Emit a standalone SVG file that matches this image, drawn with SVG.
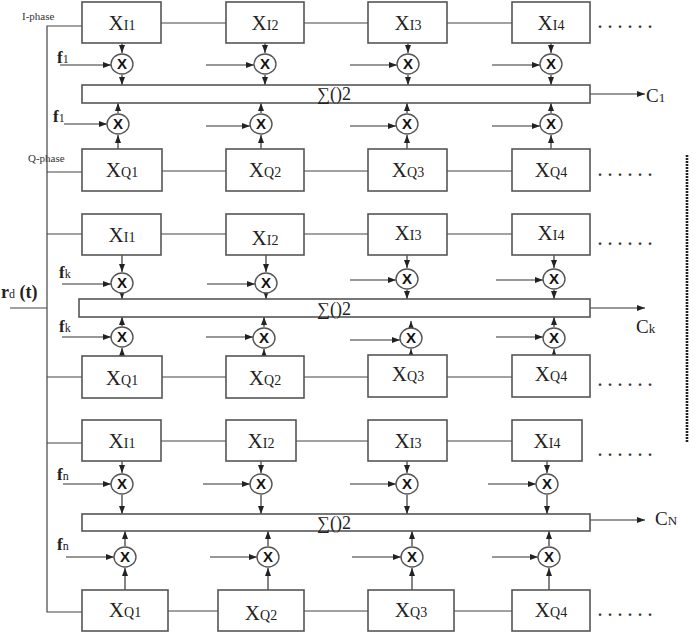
<svg xmlns="http://www.w3.org/2000/svg" width="700" height="632" viewBox="0 0 700 632">
<defs>
<marker id="ah" markerWidth="8" markerHeight="6" refX="8" refY="3" orient="auto" markerUnits="userSpaceOnUse">
<path d="M0,0 L8,3 L0,6 z" fill="#222"/>
</marker>
<style>
.bx{fill:#fff;stroke:#555;stroke-width:1.6}
.bar{fill:#fff;stroke:#555;stroke-width:1.6}
.ln{fill:none;stroke:#444;stroke-width:1.2}
.ar{fill:none;stroke:#333;stroke-width:1.2;marker-end:url(#ah)}
.mc{fill:#fff;stroke:#555;stroke-width:1.4}
.t{font-family:"Liberation Serif","DejaVu Serif",serif;fill:#222}
.bl{font-size:21px;text-anchor:middle}
.sb{font-size:14px}
.mx{font-family:"Liberation Sans",sans-serif;font-weight:bold;font-size:15px;text-anchor:middle;fill:#111}
.fl{font-size:17px;font-weight:bold}
.fs{font-size:12px;font-weight:normal}
.sm{font-size:18px;text-anchor:middle}
.dt{font-family:"Liberation Serif","DejaVu Serif",serif;font-size:16px;font-weight:bold;letter-spacing:6px;fill:#333}
.ph{font-family:"Liberation Serif","DejaVu Serif",serif;font-size:11px;fill:#333}
</style>
</defs>
<rect width="700" height="632" fill="#fff"/>

<!-- connectors -->
<g id="connectors">
<path class="ln" d="M82,26 H47 V612 H82"/>
<path class="ln" d="M10,308 H47"/>
<path class="ln" d="M47,172 H82 M47,234 H82 M47,377 H82 M47,443 H82"/>
<path class="ln" d="M161,23 H226 M304,23 H368 M447,23 H512"/>
<path class="ln" d="M162,171 H226 M304,171 H368 M447,171 H512"/>
<path class="ln" d="M161,234 H226 M304,234 H368 M447,234 H512"/>
<path class="ln" d="M162,377 H226 M304,377 H368 M447,377 H512"/>
<path class="ln" d="M161,441 H226 M296,441 H368 M447,441 H512"/>
<path class="ln" d="M168,611 H218 M304,611 H368 M454,611 H512"/>

<path class="ar" d="M122,43 V53"/><path class="ar" d="M122,75 V85"/><path class="ar" d="M60,65 H111"/>
<path class="ar" d="M265,43 V53"/><path class="ar" d="M265,75 V85"/><path class="ar" d="M206,65 H254"/>
<path class="ar" d="M408,43 V53"/><path class="ar" d="M408,75 V85"/><path class="ar" d="M350,65 H397"/>
<path class="ar" d="M551,43 V53"/><path class="ar" d="M551,75 V85"/><path class="ar" d="M492,65 H540"/>
<path class="ar" d="M118,149 V135"/><path class="ar" d="M118,113 V103"/><path class="ar" d="M64,124 H107"/>
<path class="ar" d="M261,149 V135"/><path class="ar" d="M261,113 V103"/><path class="ar" d="M206,126 H250"/>
<path class="ar" d="M407,149 V135"/><path class="ar" d="M407,113 V103"/><path class="ar" d="M350,126 H396"/>
<path class="ar" d="M551,149 V135"/><path class="ar" d="M551,113 V103"/><path class="ar" d="M492,126 H540"/>
<path class="ar" d="M590,94 H645"/>

<path class="ar" d="M122,255 V272"/><path class="ar" d="M122,294 V299"/><path class="ar" d="M62,284 H111"/>
<path class="ar" d="M266,255 V272"/><path class="ar" d="M266,294 V299"/><path class="ar" d="M207,284 H255"/>
<path class="ar" d="M407,255 V268"/><path class="ar" d="M407,290 V299"/><path class="ar" d="M350,280 H396"/>
<path class="ar" d="M554,255 V268"/><path class="ar" d="M554,290 V299"/><path class="ar" d="M496,280 H543"/>
<path class="ar" d="M122,356 V348"/><path class="ar" d="M122,326 V317"/><path class="ar" d="M62,337 H111"/>
<path class="ar" d="M264,356 V349"/><path class="ar" d="M264,327 V317"/><path class="ar" d="M206,337 H253"/>
<path class="ar" d="M411,355 V349"/><path class="ar" d="M411,327 V321"/><path class="ar" d="M350,340 H400"/>
<path class="ar" d="M554,355 V349"/><path class="ar" d="M554,327 V317"/><path class="ar" d="M496,337 H543"/>
<path class="ar" d="M590,308 H645"/>

<path class="ar" d="M122,461 V473"/><path class="ar" d="M122,495 V514"/><path class="ar" d="M63,484 H111"/>
<path class="ar" d="M261,461 V473"/><path class="ar" d="M261,495 V514"/><path class="ar" d="M203,484 H250"/>
<path class="ar" d="M407,461 V473"/><path class="ar" d="M407,495 V514"/><path class="ar" d="M350,484 H396"/>
<path class="ar" d="M547,461 V473"/><path class="ar" d="M547,495 V514"/><path class="ar" d="M488,484 H536"/>
<path class="ar" d="M125,590 V568"/><path class="ar" d="M125,546 V531"/><path class="ar" d="M66,557 H114"/>
<path class="ar" d="M268,590 V568"/><path class="ar" d="M268,546 V531"/><path class="ar" d="M210,557 H257"/>
<path class="ar" d="M412,590 V568"/><path class="ar" d="M412,546 V531"/><path class="ar" d="M352,557 H401"/>
<path class="ar" d="M549,590 V568"/><path class="ar" d="M549,546 V531"/><path class="ar" d="M492,557 H538"/>
<path class="ar" d="M590,520 H645"/>

<path d="M687,155 V442" fill="none" stroke="#222" stroke-width="2.6" stroke-dasharray="2 1"/>
</g>

<g id="s1-XI1"><rect class="bx" x="82" y="2" width="79" height="41"/><text class="t bl" x="122" y="30">X<tspan class="sb">I1</tspan></text></g>
<g id="s1-XI2"><rect class="bx" x="226" y="2" width="78" height="41"/><text class="t bl" x="265" y="30">X<tspan class="sb">I2</tspan></text></g>
<g id="s1-XI3"><rect class="bx" x="368" y="2" width="79" height="41"/><text class="t bl" x="408" y="30">X<tspan class="sb">I3</tspan></text></g>
<g id="s1-XI4"><rect class="bx" x="512" y="2" width="78" height="41"/><text class="t bl" x="551" y="30">X<tspan class="sb">I4</tspan></text></g>
<g id="s1-mI1"><ellipse class="mc" cx="122" cy="64" rx="11" ry="10"/><text class="mx" x="122" y="69">X</text></g>
<g id="s1-mI2"><ellipse class="mc" cx="265" cy="64" rx="11" ry="10"/><text class="mx" x="265" y="69">X</text></g>
<g id="s1-mI3"><ellipse class="mc" cx="408" cy="64" rx="11" ry="10"/><text class="mx" x="408" y="69">X</text></g>
<g id="s1-mI4"><ellipse class="mc" cx="551" cy="64" rx="11" ry="10"/><text class="mx" x="551" y="69">X</text></g>
<g id="s1-sum"><rect class="bar" x="82" y="85" width="508" height="18"/><text class="t sm" x="334" y="100">∑()2</text></g>
<g id="s1-mQ1"><ellipse class="mc" cx="118" cy="124" rx="11" ry="10"/><text class="mx" x="118" y="129">X</text></g>
<g id="s1-mQ2"><ellipse class="mc" cx="261" cy="124" rx="11" ry="10"/><text class="mx" x="261" y="129">X</text></g>
<g id="s1-mQ3"><ellipse class="mc" cx="407" cy="124" rx="11" ry="10"/><text class="mx" x="407" y="129">X</text></g>
<g id="s1-mQ4"><ellipse class="mc" cx="551" cy="124" rx="11" ry="10"/><text class="mx" x="551" y="129">X</text></g>
<g id="s1-XQ1"><rect class="bx" x="82" y="149" width="80" height="42"/><text class="t bl" x="122" y="177">X<tspan class="sb">Q1</tspan></text></g>
<g id="s1-XQ2"><rect class="bx" x="226" y="149" width="78" height="42"/><text class="t bl" x="265" y="177">X<tspan class="sb">Q2</tspan></text></g>
<g id="s1-XQ3"><rect class="bx" x="368" y="149" width="79" height="42"/><text class="t bl" x="408" y="177">X<tspan class="sb">Q3</tspan></text></g>
<g id="s1-XQ4"><rect class="bx" x="512" y="149" width="78" height="42"/><text class="t bl" x="551" y="177">X<tspan class="sb">Q4</tspan></text></g>

<g id="s2-XI1"><rect class="bx" x="82" y="214" width="79" height="41"/><text class="t bl" x="122" y="242">X<tspan class="sb">I1</tspan></text></g>
<g id="s2-XI2"><rect class="bx" x="226" y="214" width="78" height="41"/><text class="t bl" x="265" y="245">X<tspan class="sb">I2</tspan></text></g>
<g id="s2-XI3"><rect class="bx" x="368" y="214" width="79" height="41"/><text class="t bl" x="408" y="240">X<tspan class="sb">I3</tspan></text></g>
<g id="s2-XI4"><rect class="bx" x="512" y="214" width="78" height="41"/><text class="t bl" x="551" y="240">X<tspan class="sb">I4</tspan></text></g>
<g id="s2-mI1"><ellipse class="mc" cx="122" cy="283" rx="11" ry="10"/><text class="mx" x="122" y="288">X</text></g>
<g id="s2-mI2"><ellipse class="mc" cx="266" cy="283" rx="11" ry="10"/><text class="mx" x="266" y="288">X</text></g>
<g id="s2-mI3"><ellipse class="mc" cx="407" cy="279" rx="11" ry="10"/><text class="mx" x="407" y="284">X</text></g>
<g id="s2-mI4"><ellipse class="mc" cx="554" cy="279" rx="11" ry="10"/><text class="mx" x="554" y="284">X</text></g>
<g id="s2-sum"><rect class="bar" x="79" y="299" width="511" height="18"/><text class="t sm" x="334" y="315">∑()2</text></g>
<g id="s2-mQ1"><ellipse class="mc" cx="122" cy="337" rx="11" ry="10"/><text class="mx" x="122" y="342">X</text></g>
<g id="s2-mQ2"><ellipse class="mc" cx="264" cy="338" rx="11" ry="10"/><text class="mx" x="264" y="343">X</text></g>
<g id="s2-mQ3"><ellipse class="mc" cx="411" cy="338" rx="11" ry="10"/><text class="mx" x="411" y="343">X</text></g>
<g id="s2-mQ4"><ellipse class="mc" cx="554" cy="338" rx="11" ry="10"/><text class="mx" x="554" y="343">X</text></g>
<g id="s2-XQ1"><rect class="bx" x="82" y="356" width="80" height="42"/><text class="t bl" x="122" y="385">X<tspan class="sb">Q1</tspan></text></g>
<g id="s2-XQ2"><rect class="bx" x="226" y="356" width="78" height="42"/><text class="t bl" x="265" y="385">X<tspan class="sb">Q2</tspan></text></g>
<g id="s2-XQ3"><rect class="bx" x="368" y="355" width="79" height="42"/><text class="t bl" x="408" y="381">X<tspan class="sb">Q3</tspan></text></g>
<g id="s2-XQ4"><rect class="bx" x="512" y="355" width="78" height="42"/><text class="t bl" x="551" y="381">X<tspan class="sb">Q4</tspan></text></g>

<g id="s3-XI1"><rect class="bx" x="82" y="420" width="79" height="41"/><text class="t bl" x="122" y="448">X<tspan class="sb">I1</tspan></text></g>
<g id="s3-XI2"><rect class="bx" x="226" y="420" width="70" height="41"/><text class="t bl" x="261" y="448">X<tspan class="sb">I2</tspan></text></g>
<g id="s3-XI3"><rect class="bx" x="368" y="420" width="79" height="41"/><text class="t bl" x="408" y="448">X<tspan class="sb">I3</tspan></text></g>
<g id="s3-XI4"><rect class="bx" x="512" y="420" width="70" height="41"/><text class="t bl" x="547" y="448">X<tspan class="sb">I4</tspan></text></g>
<g id="s3-mI1"><ellipse class="mc" cx="122" cy="484" rx="11" ry="10"/><text class="mx" x="122" y="489">X</text></g>
<g id="s3-mI2"><ellipse class="mc" cx="261" cy="484" rx="11" ry="10"/><text class="mx" x="261" y="489">X</text></g>
<g id="s3-mI3"><ellipse class="mc" cx="407" cy="484" rx="11" ry="10"/><text class="mx" x="407" y="489">X</text></g>
<g id="s3-mI4"><ellipse class="mc" cx="547" cy="484" rx="11" ry="10"/><text class="mx" x="547" y="489">X</text></g>
<g id="s3-sum"><rect class="bar" x="82" y="514" width="508" height="17"/><text class="t sm" x="334" y="529">∑()2</text></g>
<g id="s3-mQ1"><ellipse class="mc" cx="125" cy="557" rx="11" ry="10"/><text class="mx" x="125" y="562">X</text></g>
<g id="s3-mQ2"><ellipse class="mc" cx="268" cy="557" rx="11" ry="10"/><text class="mx" x="268" y="562">X</text></g>
<g id="s3-mQ3"><ellipse class="mc" cx="412" cy="557" rx="11" ry="10"/><text class="mx" x="412" y="562">X</text></g>
<g id="s3-mQ4"><ellipse class="mc" cx="549" cy="557" rx="11" ry="10"/><text class="mx" x="549" y="562">X</text></g>
<g id="s3-XQ1"><rect class="bx" x="82" y="590" width="86" height="41"/><text class="t bl" x="125" y="617">X<tspan class="sb">Q1</tspan></text></g>
<g id="s3-XQ2"><rect class="bx" x="218" y="590" width="86" height="41"/><text class="t bl" x="261" y="620">X<tspan class="sb">Q2</tspan></text></g>
<g id="s3-XQ3"><rect class="bx" x="368" y="590" width="86" height="41"/><text class="t bl" x="411" y="617">X<tspan class="sb">Q3</tspan></text></g>
<g id="s3-XQ4"><rect class="bx" x="512" y="590" width="78" height="41"/><text class="t bl" x="551" y="617">X<tspan class="sb">Q4</tspan></text></g>

<g id="labels">
<text class="ph" x="22" y="20">I-phase</text>
<text class="ph" x="28" y="162">Q-phase</text>
<text class="t fl" x="57" y="63">f<tspan class="fs">1</tspan></text>
<text class="t fl" x="53" y="122">f<tspan class="fs">1</tspan></text>
<text class="t fl" x="59" y="278">f<tspan class="fs">k</tspan></text>
<text class="t fl" x="59" y="332">f<tspan class="fs">k</tspan></text>
<text class="t fl" x="57" y="480">f<tspan class="fs">n</tspan></text>
<text class="t fl" x="57" y="550">f<tspan class="fs">n</tspan></text>
<text class="t" x="1" y="298" font-size="18" font-weight="bold">r<tspan font-size="12" font-weight="normal">d</tspan> (t)</text>
<text class="t" x="646" y="102" font-size="19">C<tspan font-size="13">1</tspan></text>
<text class="t" x="636" y="333" font-size="19">C<tspan font-size="13">k</tspan></text>
<text class="t" x="655" y="525" font-size="19">C<tspan font-size="13">N</tspan></text>
<text class="dt" x="598" y="28">......</text>
<text class="dt" x="598" y="176">......</text>
<text class="dt" x="598" y="245">......</text>
<text class="dt" x="598" y="386">......</text>
<text class="dt" x="598" y="456">......</text>
<text class="dt" x="598" y="616">......</text>
</g>
</svg>
